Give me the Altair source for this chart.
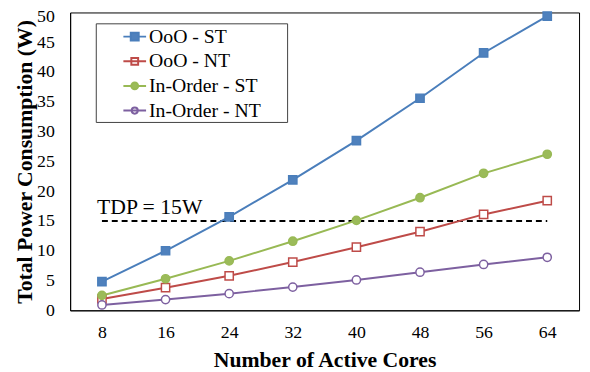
import altair as alt
import pandas as pd

cores = ["8", "16", "24", "32", "40", "48", "56", "64"]
series = ["OoO - ST", "OoO - NT", "In-Order - ST", "In-Order - NT"]
ooo_st = [4.8, 10.0, 15.7, 21.9, 28.5, 35.6, 43.2, 49.4]
ooo_nt = [1.9, 3.8, 5.8, 8.1, 10.6, 13.2, 16.1, 18.4]
io_st = [2.5, 5.3, 8.3, 11.6, 15.1, 18.9, 23.0, 26.2]
io_nt = [0.9, 1.8, 2.8, 3.9, 5.1, 6.4, 7.7, 8.9]
line_colors = ["#4A7EBB", "#BE4B48", "#98B954", "#7D60A0"]
fill_colors = ["#4F81BD", "#FFFFFF", "#9BBB59", "#FFFFFF"]
marker_shapes = ["square", "square", "circle", "circle"]
legend_paths = [
    "M-1,0H-0.35M0.35,0H1M-0.35,-0.35H0.35V0.35H-0.35Z",
    "M-1,0H1M-0.3,-0.3H0.3V0.3H-0.3Z",
    "M-1,0H-0.3M0.3,0H1M0.3,0A0.3,0.3 0 1,1 -0.3,0A0.3,0.3 0 1,1 0.3,0Z",
    "M-1,0H1M0.27,0A0.27,0.27 0 1,1 -0.27,0A0.27,0.27 0 1,1 0.27,0Z",
]
tdp_value = 15
tdp_label = "TDP = 15W"
y_ticks = [0, 5, 10, 15, 20, 25, 30, 35, 40, 45, 50]

values = [ooo_st, ooo_nt, io_st, io_nt]
rows = []
for i, s in enumerate(series):
    for c, v in zip(cores, values[i]):
        rows.append({"series": s, "cores": c, "power": v,
                     "lc": line_colors[i], "fc": fill_colors[i], "shp": marker_shapes[i]})
df = pd.DataFrame(rows)

FONT = "Liberation Serif"

x_enc = alt.X("cores:N", sort=cores, scale=alt.Scale(type="point", padding=0.5),
              axis=alt.Axis(title="Number of Active Cores", labelAngle=0,
                            labelFont=FONT, labelFontSize=18, labelPadding=14,
                            titleFont=FONT, titleFontSize=22, titlePadding=8))
y_enc = alt.Y("power:Q", scale=alt.Scale(domain=[0, 50], nice=False),
              axis=alt.Axis(title="Total Power Consumption (W)", values=y_ticks,
                            labelOverlap=False, labelFont=FONT, labelFontSize=18,
                            labelPadding=16, titleFont=FONT, titleFontSize=22,
                            titlePadding=0,
                            labelOffset={"condition": {"test": "datum.value == 50", "value": 4},
                                         "value": 0}))

base = alt.Chart(df)

lines = base.mark_line(strokeWidth=2).encode(
    x=x_enc, y=y_enc,
    color=alt.Color("lc:N", scale=None),
    detail="series:N",
)

points = base.mark_point(filled=True, opacity=1, size=70, strokeWidth=1.5).encode(
    x=x_enc, y=y_enc,
    shape=alt.Shape("shp:N", scale=None),
    stroke=alt.Stroke("lc:N", scale=None),
    fill=alt.Fill("fc:N", scale=None),
)

tdp_df = pd.DataFrame({"cores": [cores[0], cores[-1]], "power": [tdp_value, tdp_value]})
tdp_line = alt.Chart(tdp_df).mark_line(color="black", strokeWidth=2, strokeDash=[6, 4]).encode(
    x=x_enc, y=y_enc
)

tdp_text_df = pd.DataFrame({"cores": [cores[0]], "power": [tdp_value], "label": [tdp_label]})
tdp_text = alt.Chart(tdp_text_df).mark_text(
    align="left", baseline="alphabetic", dx=-5, dy=-7, font=FONT, fontSize=22, color="black"
).encode(x=x_enc, y=y_enc, text="label:N")

legend = alt.Legend(
    title=None,
    orient="none", legendX=26, legendY=11,
    strokeColor="#404040", fillColor="white", padding=1,
    symbolOffset=26, symbolSize=529, symbolStrokeWidth=2,
    labelFont=FONT, labelFontSize=20, labelColor="black", labelOffset=2,
    labelExpr="datum.label + '\u00a0\u00a0\u00a0\u00a0\u00a0\u200b'",
    rowPadding=2, symbolOpacity=1,
)
leg_df = pd.DataFrame({"series": series, "cores": [cores[0]] * 4, "power": [None] * 4})
leg_layer = alt.Chart(leg_df).mark_point(filled=True, opacity=1, strokeWidth=2, size=529).encode(
    x=x_enc,
    y=y_enc,
    shape=alt.Shape("series:N", scale=alt.Scale(domain=series, range=legend_paths), legend=legend),
    stroke=alt.Stroke("series:N", scale=alt.Scale(domain=series, range=line_colors), legend=legend),
    fill=alt.Fill("series:N", scale=alt.Scale(domain=series, range=fill_colors), legend=legend),
)

chart = alt.layer(tdp_line, tdp_text, lines, points, leg_layer).properties(
    width=516, height=302,
    autosize=alt.AutoSizeParams(type="none"),
    padding={"left": 63, "top": 2, "right": 3, "bottom": 60},
).configure(
    font=FONT
).configure_view(
    stroke="black", strokeWidth=1
).configure_axis(
    grid=False, ticks=False, domain=True, domainColor="black", domainWidth=1,
    labelFont=FONT, labelColor="black",
    titleFont=FONT, titleFontWeight="bold", titleColor="black",
)

chart.save("out.html", embed_options={"renderer": "svg", "actions": False})
